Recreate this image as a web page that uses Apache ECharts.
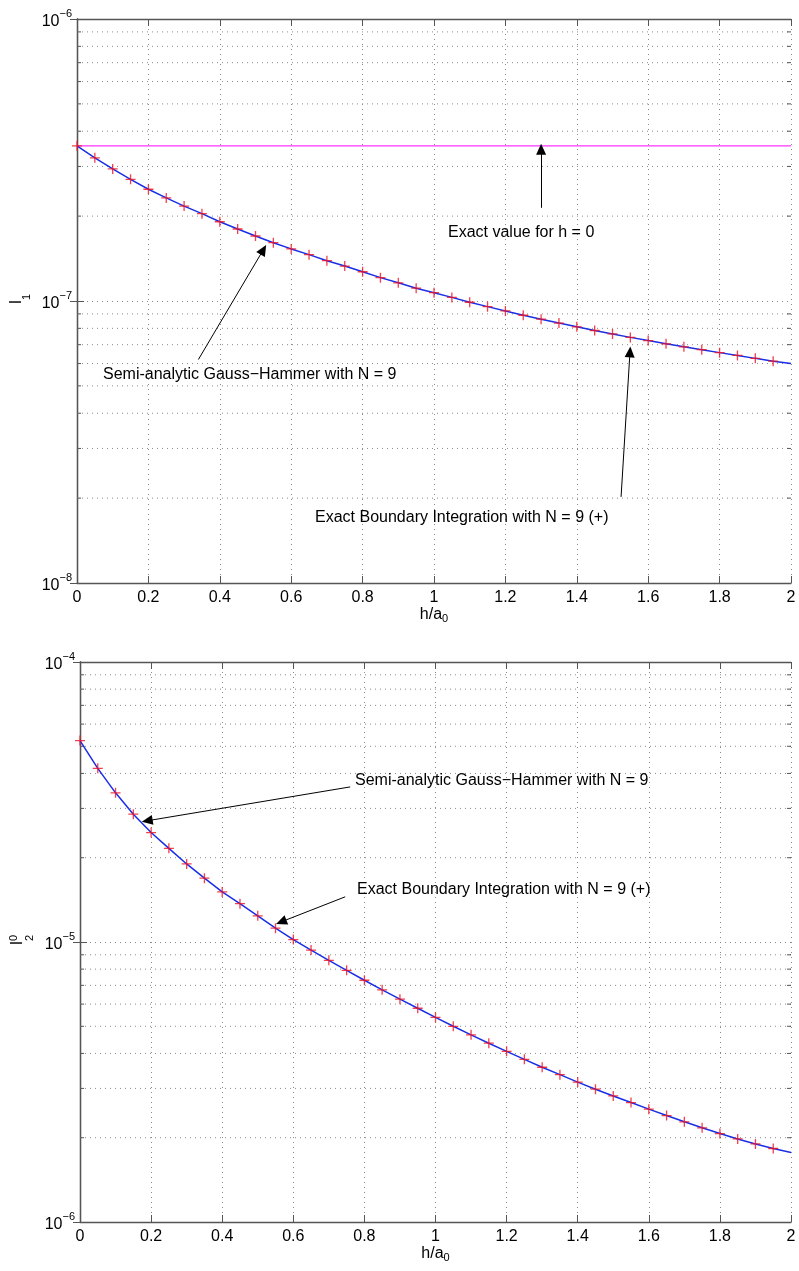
<!DOCTYPE html>
<html>
<head>
<meta charset="utf-8">
<script src="https://cdn.jsdelivr.net/npm/echarts@6/dist/echarts.min.js"></script>
<style>
html, body { margin: 0; padding: 0; background: #fff; }
#chart { width: 799px; height: 1271px; }
</style>
</head>
<body>
<div id="chart"></div>
<script>
// h/a0 sample points
const hVals = [0, 0.05, 0.1, 0.15, 0.2, 0.25, 0.3, 0.35, 0.4, 0.45,
  0.5, 0.55, 0.6, 0.65, 0.7, 0.75, 0.8, 0.85, 0.9, 0.95,
  1.0, 1.05, 1.1, 1.15, 1.2, 1.25, 1.3, 1.35, 1.4, 1.45,
  1.5, 1.55, 1.6, 1.65, 1.7, 1.75, 1.8, 1.85, 1.9, 1.95, 2.0];

// top plot : I1
const i1SemiAnalytic = [3.55e-7, 3.22e-7, 2.94e-7, 2.70e-7, 2.49e-7, 2.32e-7, 2.17e-7, 2.04e-7, 1.91e-7, 1.80e-7,
  1.70e-7, 1.61e-7, 1.53e-7, 1.46e-7, 1.39e-7, 1.33e-7, 1.27e-7, 1.21e-7, 1.16e-7, 1.11e-7,
  1.07e-7, 1.03e-7, 9.90e-8, 9.55e-8, 9.22e-8, 8.90e-8, 8.62e-8, 8.35e-8, 8.10e-8, 7.86e-8,
  7.64e-8, 7.43e-8, 7.24e-8, 7.05e-8, 6.88e-8, 6.72e-8, 6.56e-8, 6.41e-8, 6.26e-8, 6.12e-8, 6.00e-8];
const i1ExactBoundary = [3.55e-7, 3.22e-7, 2.94e-7, 2.70e-7, 2.49e-7, 2.32e-7, 2.17e-7, 2.04e-7, 1.91e-7, 1.80e-7,
  1.70e-7, 1.61e-7, 1.53e-7, 1.46e-7, 1.39e-7, 1.33e-7, 1.27e-7, 1.21e-7, 1.16e-7, 1.11e-7,
  1.07e-7, 1.03e-7, 9.90e-8, 9.55e-8, 9.22e-8, 8.90e-8, 8.62e-8, 8.35e-8, 8.10e-8, 7.86e-8,
  7.64e-8, 7.43e-8, 7.24e-8, 7.05e-8, 6.88e-8, 6.72e-8, 6.56e-8, 6.41e-8, 6.26e-8, 6.12e-8];
const i1ExactH0X = [0, 2];
const i1ExactH0 = [3.55e-7, 3.55e-7];

// bottom plot : I2^0
const i2SemiAnalytic = [5.24e-5, 4.17e-5, 3.41e-5, 2.86e-5, 2.46e-5, 2.16e-5, 1.90e-5, 1.69e-5, 1.51e-5, 1.37e-5,
  1.24e-5, 1.12e-5, 1.02e-5, 9.36e-6, 8.60e-6, 7.92e-6, 7.30e-6, 6.75e-6, 6.25e-6, 5.80e-6,
  5.38e-6, 5.00e-6, 4.66e-6, 4.35e-6, 4.07e-6, 3.81e-6, 3.57e-6, 3.36e-6, 3.16e-6, 2.98e-6,
  2.82e-6, 2.67e-6, 2.53e-6, 2.40e-6, 2.28e-6, 2.17e-6, 2.07e-6, 1.98e-6, 1.90e-6, 1.83e-6, 1.77e-6];
const i2ExactBoundary = [5.24e-5, 4.17e-5, 3.41e-5, 2.86e-5, 2.46e-5, 2.16e-5, 1.90e-5, 1.69e-5, 1.51e-5, 1.37e-5,
  1.24e-5, 1.12e-5, 1.02e-5, 9.36e-6, 8.60e-6, 7.92e-6, 7.30e-6, 6.75e-6, 6.25e-6, 5.80e-6,
  5.38e-6, 5.00e-6, 4.66e-6, 4.35e-6, 4.07e-6, 3.81e-6, 3.57e-6, 3.36e-6, 3.16e-6, 2.98e-6,
  2.82e-6, 2.67e-6, 2.53e-6, 2.40e-6, 2.28e-6, 2.17e-6, 2.07e-6, 1.98e-6, 1.90e-6, 1.83e-6];

// ticks
const yTicks1 = [1e-8, 1e-7, 1e-6];
const yTickExp1 = ['−8', '−7', '−6'];
const yTicks2 = [1e-6, 1e-5, 1e-4];
const yTickExp2 = ['−6', '−5', '−4'];

const FONT = '"Liberation Sans", Arial, Helvetica, sans-serif';
const BLUE = '#1a2ee6';
const RED = '#f01020';
const GRID_GRAY = '#8a8a8a';
const AXIS_GRAY = '#555';

function minorVals(ticks) {
  let out = [];
  for (let i = 0; i < ticks.length - 1; i++) {
    for (let k = 2; k <= 9; k++) out.push(k * ticks[i]);
  }
  return out;
}

function pairs(xs, ys) {
  return ys.map((y, i) => [xs[i], y]);
}

function yLabelFmt(ticks, exps) {
  return function (v) {
    let idx = ticks.findIndex(t => Math.abs(Math.log10(t) - Math.log10(v)) < 1e-6);
    if (idx < 0) return '';
    return '{b|10}{e|' + exps[idx] + '}';
  };
}

const yRich = {
  b: { fontSize: 16, fontFamily: FONT, color: '#000', padding: [6, 0, 0, 0] },
  e: { fontSize: 11, fontFamily: FONT, color: '#000', verticalAlign: 'top' }
};

function xAxisMain(gi) {
  return {
    type: 'value', gridIndex: gi, min: 0, max: 2, interval: 0.2,
    axisLine: { lineStyle: { color: AXIS_GRAY, width: 1.3 } },
    axisTick: { inside: true, length: 7, lineStyle: { color: AXIS_GRAY } },
    axisLabel: { margin: 7, fontSize: 16, fontFamily: FONT, color: '#000' },
    splitLine: { show: true, lineStyle: { color: GRID_GRAY, type: [1, 4], width: 1 } },
    name: '{t|h/a}{s|0}', nameLocation: 'middle', nameGap: 22,
    nameTextStyle: {
      rich: {
        t: { fontSize: 16, fontFamily: FONT, color: '#000' },
        s: { fontSize: 11, fontFamily: FONT, color: '#000', padding: [8, 0, 0, 0] }
      }
    }
  };
}
function xAxisTop(gi) {
  return {
    type: 'value', gridIndex: gi, position: 'top', min: 0, max: 2, interval: 0.2,
    axisLine: { lineStyle: { color: AXIS_GRAY, width: 1.3 } },
    axisTick: { inside: true, length: 7, lineStyle: { color: AXIS_GRAY } },
    axisLabel: { show: false },
    splitLine: { show: false }
  };
}
function yAxisMain(gi, lo, hi, ticks, exps) {
  return {
    type: 'log', logBase: 10, gridIndex: gi, min: lo, max: hi, splitNumber: 2,
    axisLine: { show: true, lineStyle: { color: AXIS_GRAY, width: 1.3 } },
    axisTick: { show: true, inside: true, length: 7, lineStyle: { color: AXIS_GRAY } },
    axisLabel: { margin: 5, formatter: yLabelFmt(ticks, exps), rich: yRich },
    splitLine: { show: true, lineStyle: { color: GRID_GRAY, type: [1, 4], width: 1 } }
  };
}
function yAxisRight(gi, lo, hi) {
  return {
    type: 'log', logBase: 10, gridIndex: gi, position: 'right', min: lo, max: hi, splitNumber: 2,
    axisLine: { show: true, lineStyle: { color: AXIS_GRAY, width: 1.3 } },
    axisTick: { show: true, inside: true, length: 7, lineStyle: { color: AXIS_GRAY } },
    axisLabel: { show: false },
    splitLine: { show: false }
  };
}

// minor grid lines + minor ticks on both sides
function minorSeries(xi, yi, vals) {
  return {
    type: 'custom', xAxisIndex: xi, yAxisIndex: yi, silent: true, z: 1,
    data: vals.map(v => [0, v]),
    encode: { x: 0, y: 1 },
    clip: false,
    renderItem: function (params, api) {
      const v = api.value(1);
      const p0 = api.coord([0, v]);
      const p1 = api.coord([2, v]);
      return {
        type: 'group',
        children: [
          { type: 'line', shape: { x1: p0[0], y1: p0[1], x2: p1[0], y2: p1[1] },
            style: { stroke: GRID_GRAY, lineWidth: 1, lineDash: [1, 4] } },
          { type: 'line', shape: { x1: p0[0], y1: p0[1], x2: p0[0] + 4, y2: p0[1] },
            style: { stroke: AXIS_GRAY, lineWidth: 1 } },
          { type: 'line', shape: { x1: p1[0] - 4, y1: p1[1], x2: p1[0], y2: p1[1] },
            style: { stroke: AXIS_GRAY, lineWidth: 1 } }
        ]
      };
    }
  };
}

const plusSymbol = 'path://M5,0L5,10M0,5L10,5';
const arrowStyle = {
  silent: true,
  symbol: ['none', 'triangle'],
  symbolSize: [10, 11],
  lineStyle: { color: '#000', width: 1, type: 'solid' },
  label: { show: false },
  emphasis: { disabled: true }
};

function annText(x, y, txt) {
  return {
    type: 'text', x: x, y: y, z: 100,
    style: { text: txt, font: '16px ' + FONT, fill: '#000', verticalAlign: 'middle', align: 'left' }
  };
}

const chart = echarts.init(document.getElementById('chart'));
chart.setOption({
  animation: false,
  backgroundColor: '#fff',
  grid: [
    { left: 77, top: 19, width: 714, height: 564 },
    { left: 80, top: 662, width: 711, height: 560 }
  ],
  xAxis: [xAxisMain(0), xAxisTop(0), xAxisMain(1), xAxisTop(1)],
  yAxis: [
    yAxisMain(0, 1e-8, 1e-6, yTicks1, yTickExp1), yAxisRight(0, 1e-8, 1e-6),
    yAxisMain(1, 1e-6, 1e-4, yTicks2, yTickExp2), yAxisRight(1, 1e-6, 1e-4)
  ],
  graphic: [
    annText(448, 233, 'Exact value for h = 0'),
    annText(103, 375, 'Semi-analytic Gauss−Hammer with N = 9'),
    annText(315, 518, 'Exact Boundary Integration with N = 9 (+)'),
    annText(355, 781, 'Semi-analytic Gauss−Hammer with N = 9'),
    annText(357, 890, 'Exact Boundary Integration with N = 9 (+)'),
    {
      type: 'group', x: 17, y: 302, rotation: Math.PI / 2,
      children: [
        { type: 'text', x: 0, y: 0, style: { text: 'I', font: '16px ' + FONT, fill: '#000', align: 'center', verticalAlign: 'middle' } },
        { type: 'text', x: 5, y: 10, style: { text: '1', font: '11px ' + FONT, fill: '#000', align: 'center', verticalAlign: 'middle' } }
      ]
    },
    {
      type: 'group', x: 18, y: 943, rotation: Math.PI / 2,
      children: [
        { type: 'text', x: 0, y: 0, style: { text: 'I', font: '16px ' + FONT, fill: '#000', align: 'center', verticalAlign: 'middle' } },
        { type: 'text', x: 5, y: 12, style: { text: '2', font: '11px ' + FONT, fill: '#000', align: 'center', verticalAlign: 'middle' } },
        { type: 'text', x: 5, y: -4, style: { text: '0', font: '11px ' + FONT, fill: '#000', align: 'center', verticalAlign: 'middle' } }
      ]
    }
  ],
  series: [
    minorSeries(0, 0, minorVals(yTicks1)),
    minorSeries(2, 2, minorVals(yTicks2)),
    {
      name: 'Exact value for h = 0', type: 'line', xAxisIndex: 0, yAxisIndex: 0, z: 3,
      data: pairs(i1ExactH0X, i1ExactH0), symbol: 'none',
      lineStyle: { color: '#ff33ff', width: 1.3 }
    },
    {
      name: 'Semi-analytic I1', type: 'line', xAxisIndex: 0, yAxisIndex: 0, z: 4,
      data: pairs(hVals, i1SemiAnalytic), symbol: 'none',
      lineStyle: { color: BLUE, width: 1.5 },
      markLine: Object.assign({}, arrowStyle, {
        data: [
          [{ coord: [1.30, 2.14e-7] }, { coord: [1.30, 3.45e-7] }],
          [{ coord: [0.34, 6.2e-8] }, { coord: [0.522, 1.52e-7] }],
          [{ coord: [1.524, 2.02e-8] }, { coord: [1.549, 6.6e-8] }]
        ]
      })
    },
    {
      name: 'Exact Boundary I1', type: 'scatter', xAxisIndex: 0, yAxisIndex: 0, z: 5,
      data: pairs(hVals, i1ExactBoundary), symbol: plusSymbol, symbolSize: 10,
      itemStyle: { color: 'none', borderColor: RED, borderWidth: 1.3 }
    },
    {
      name: 'Semi-analytic I2', type: 'line', xAxisIndex: 2, yAxisIndex: 2, z: 4,
      data: pairs(hVals, i2SemiAnalytic), symbol: 'none',
      lineStyle: { color: BLUE, width: 1.5 },
      markLine: Object.assign({}, arrowStyle, {
        data: [
          [{ coord: [0.76, 3.58e-5] }, { coord: [0.189, 2.71e-5] }],
          [{ coord: [0.746, 1.45e-5] }, { coord: [0.566, 1.18e-5] }]
        ]
      })
    },
    {
      name: 'Exact Boundary I2', type: 'scatter', xAxisIndex: 2, yAxisIndex: 2, z: 5,
      data: pairs(hVals, i2ExactBoundary), symbol: plusSymbol, symbolSize: 10,
      itemStyle: { color: 'none', borderColor: RED, borderWidth: 1.3 }
    }
  ]
});
</script>
</body>
</html>
